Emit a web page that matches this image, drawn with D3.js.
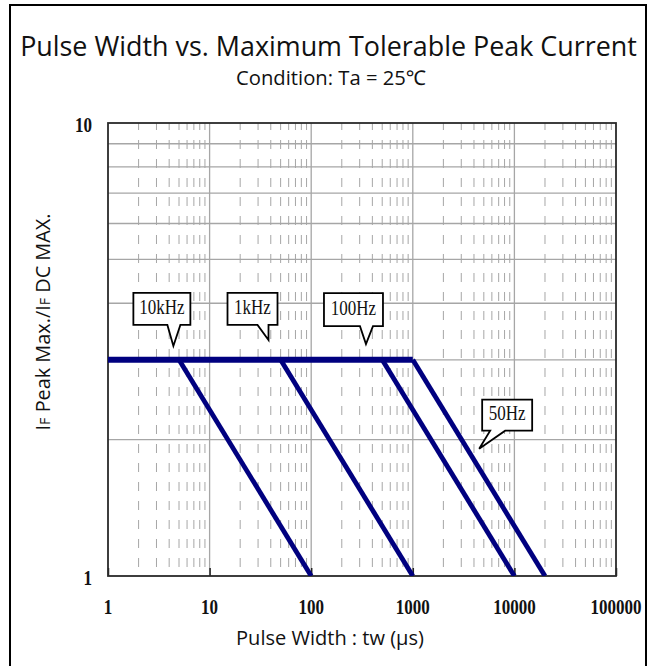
<!DOCTYPE html>
<html>
<head>
<meta charset="utf-8">
<script src="https://cdn.jsdelivr.net/npm/d3@7"></script>
<style>
body { margin: 0; background: #fff; }
</style>
</head>
<body>
<div class="chart"></div>
<script>
var svg_width = 653;
var svg_height = 666;

var margin = {
	top: 123,
	right: 37,
	bottom: 90,
	left: 108
}

var width = svg_width - margin.left - margin.right
var height = svg_height - margin.top - margin.bottom

// Data
var xTickValues = [1, 10, 100, 1000, 10000, 100000]
var xTickLabels = ["1", "10", "100", "1000", "10000", "100000"]
var yTickValues = [1, 10]
var yTickLabels = ["1", "10"]

var freqNames = ["10kHz", "1kHz", "100Hz", "50Hz"]
var plateauRatio = [3, 3, 3, 3]          // IF peak / IF DC on the flat part
var kneeWidth = [5, 50, 500, 1000]       // tw (us) where the curve starts to fall
var endWidth = [100, 1000, 10000, 20000] // tw (us) where the ratio reaches 1
var endRatio = [1, 1, 1, 1]

// where each callout points to (data units)
var tipWidth = [4.4, 38, 346, 4500]
var tipRatio = [3.22, 3.32, 3.25, 1.91]

// callout box shape relative to its tip, in pixels
var calloutShape = [
	{l: -40, r: 17, t: -53, b: -21, t0: -6, t1: 7},
	{l: -41, r: 9, t: -47, b: -15, t0: -11, t1: 0},
	{l: -42, r: 17, t: -51, b: -18, t0: -6, t1: 7},
	{l: 3, r: 53, t: -49, b: -18, t0: 11, t1: 26}
]

var lineColor = "#00007f"
var gridColor = "#a6a6a6"
var serif = "'Liberation Serif', 'Times New Roman', serif"
var sans = "'Open Sans', 'Noto Sans', sans-serif"

var svg = d3.select(".chart")
	.append("svg")
	.attr("width", svg_width)
	.attr("height", svg_height)

// outer frame (bottom edge runs off the page)
svg.append("rect")
	.attr("x", 10)
	.attr("y", 5)
	.attr("width", 636)
	.attr("height", 700)
	.attr("fill", "none")
	.attr("stroke", "#000")
	.attr("stroke-width", 2)

function fitWidth(sel, target) {
	var w = sel.node().getComputedTextLength()
	var fs = parseFloat(sel.attr("font-size"))
	sel.attr("font-size", fs * target / w)
}

// Titles
var title = svg.append("text")
	.attr("x", 328.5)
	.attr("y", 56)
	.attr("text-anchor", "middle")
	.attr("font-family", sans)
	.attr("font-size", 26)
	.attr("fill", "#111")
	.text("Pulse Width vs. Maximum Tolerable Peak Current")
fitWidth(title, 617)

var subtitle = svg.append("text")
	.attr("x", 331)
	.attr("y", 85)
	.attr("text-anchor", "middle")
	.attr("font-family", sans)
	.attr("font-size", 17)
	.attr("fill", "#111")
	.text("Condition: Ta = 25\u2103")
fitWidth(subtitle, 190)

var plot = svg.append("g")
	.attr("transform", `translate(${margin.left}, ${margin.top})`)

// Scales
var xScale = d3.scaleLog()
	.domain([1, 100000])
	.range([0, width])

var yScale = d3.scaleLog()
	.domain([1, 10])
	.range([height, 0])

plot.append("clipPath")
	.attr("id", "plotClip")
	.append("rect")
	.attr("width", width)
	.attr("height", height)

// Grid: minor vertical dashes, horizontal lines, decade lines
var minorX = []
xTickValues.slice(0, -1).forEach(function(d) {
	for (var k = 2; k <= 9; k++) minorX.push(d * k)
})

plot.append("g")
	.selectAll("line")
	.data(minorX)
	.enter()
	.append("line")
	.attr("x1", d => xScale(d))
	.attr("x2", d => xScale(d))
	.attr("y1", height)
	.attr("y2", 0)
	.attr("stroke", gridColor)
	.attr("stroke-width", 1)
	.attr("stroke-dasharray", "9,10")
	.attr("stroke-dashoffset", 10)

var minorY = d3.range(2, 10)
plot.append("g")
	.selectAll("line")
	.data(minorY)
	.enter()
	.append("line")
	.attr("x1", 0)
	.attr("x2", width)
	.attr("y1", d => yScale(d))
	.attr("y2", d => yScale(d))
	.attr("stroke", gridColor)
	.attr("stroke-width", 1.3)

plot.append("g")
	.selectAll("line")
	.data(xTickValues.slice(1, -1))
	.enter()
	.append("line")
	.attr("x1", d => xScale(d))
	.attr("x2", d => xScale(d))
	.attr("y1", 0)
	.attr("y2", height)
	.attr("stroke", gridColor)
	.attr("stroke-width", 1.3)

// short inward ticks on the bottom axis
var bottom_axis = d3.axisBottom(xScale)
	.tickValues(xTickValues)
	.tickSize(-8)
	.tickFormat("")

plot.append("g")
	.attr("transform", `translate(0,${height})`)
	.call(bottom_axis)
	.call(g => g.select(".domain").remove())
	.selectAll("line")
	.attr("stroke", "#222")
	.attr("stroke-width", 1.5)

// plot frame
plot.append("rect")
	.attr("width", width)
	.attr("height", height)
	.attr("fill", "none")
	.attr("stroke", "#2a2a2a")
	.attr("stroke-width", 1.8)

// Curves
var curves = plot.append("g").attr("clip-path", "url(#plotClip)")

var segLine = d3.line()
	.x(d => xScale(d[0]))
	.y(d => yScale(d[1]))

curves.selectAll(".slope")
	.data(freqNames)
	.enter()
	.append("path")
	.attr("class", "slope")
	.attr("d", (d, i) => segLine([[kneeWidth[i], plateauRatio[i]], [endWidth[i], endRatio[i]]]))
	.attr("fill", "none")
	.attr("stroke", lineColor)
	.attr("stroke-width", 4.8)

curves.append("path")
	.attr("d", segLine([[xScale.domain()[0], plateauRatio[0]], [d3.max(kneeWidth), plateauRatio[0]]]))
	.attr("fill", "none")
	.attr("stroke", lineColor)
	.attr("stroke-width", 6)

// Callouts
var callouts = plot.selectAll(".callout")
	.data(freqNames)
	.enter()
	.append("g")
	.attr("class", "callout")
	.attr("transform", (d, i) => `translate(${xScale(tipWidth[i])}, ${yScale(tipRatio[i])})`)

callouts.append("path")
	.attr("d", function(d, i) {
		var s = calloutShape[i]
		return `M${s.l},${s.t}H${s.r}V${s.b}H${s.t1}L0,0L${s.t0},${s.b}H${s.l}Z`
	})
	.attr("fill", "#fff")
	.attr("stroke", "#000")
	.attr("stroke-width", 1.8)
	.attr("stroke-linejoin", "miter")

callouts.append("text")
	.attr("transform", (d, i) => `translate(${(calloutShape[i].l + calloutShape[i].r) / 2}, ${calloutShape[i].b - 11}) scale(1,1.22)`)
	.attr("text-anchor", "middle")
	.attr("font-family", serif)
	.attr("font-size", 17)
	.attr("fill", "#111")
	.text(d => d)

// Tick labels
plot.selectAll(".xlabel")
	.data(xTickValues)
	.enter()
	.append("text")
	.attr("class", "xlabel")
	.attr("transform", d => `translate(${xScale(d)}, ${height + 38}) scale(1,1.25)`)
	.attr("text-anchor", "middle")
	.attr("font-family", serif)
	.attr("font-weight", "bold")
	.attr("font-size", 17)
	.attr("fill", "#111")
	.text((d, i) => xTickLabels[i])

plot.selectAll(".ylabel")
	.data(yTickValues)
	.enter()
	.append("text")
	.attr("class", "ylabel")
	.attr("transform", d => `translate(-16, ${yScale(d) + 9}) scale(1,1.25)`)
	.attr("text-anchor", "end")
	.attr("font-family", serif)
	.attr("font-weight", "bold")
	.attr("font-size", 17)
	.attr("fill", "#111")
	.text((d, i) => yTickLabels[i])

// Axis titles
var xTitle = svg.append("text")
	.attr("x", 330)
	.attr("y", 645)
	.attr("text-anchor", "middle")
	.attr("font-family", sans)
	.attr("font-size", 17)
	.attr("fill", "#111")
	.text("Pulse Width : tw (\u03bcs)")
fitWidth(xTitle, 188)

var yTitle = svg.append("text")
	.attr("transform", "translate(50, 322) rotate(-90)")
	.attr("text-anchor", "middle")
	.attr("font-family", sans)
	.attr("font-size", 19)
	.attr("fill", "#111")
yTitle.append("tspan").text("I")
yTitle.append("tspan").attr("font-size", "0.72em").text("F")
yTitle.append("tspan").text(" Peak Max./I")
yTitle.append("tspan").attr("font-size", "0.72em").text("F")
yTitle.append("tspan").text(" DC MAX.")
fitWidth(yTitle, 217)
</script>
</body>
</html>
